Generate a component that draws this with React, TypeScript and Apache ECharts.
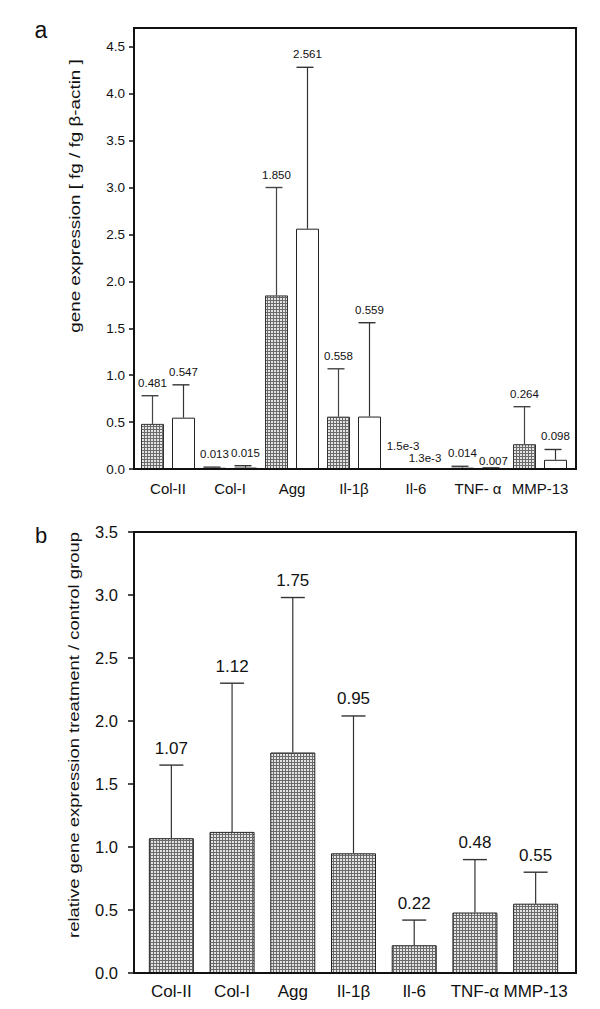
import React, { useEffect, useRef } from 'react';
import * as echarts from 'echarts';

// ---------- data ----------
const categoriesA = ['Col-II', 'Col-I', 'Agg', 'Il-1β', 'Il-6', 'TNF- α', 'MMP-13'];
const groupA1 = [0.481, 0.013, 1.85, 0.558, 0.0015, 0.014, 0.264];
const groupA2 = [0.547, 0.015, 2.561, 0.559, 0.0013, 0.007, 0.098];
const sdA1 = [0.3, 0.007, 1.15, 0.51, 0, 0.015, 0.4];
const sdA2 = [0.35, 0.02, 1.72, 1.0, 0, 0.005, 0.11];
const ticksA = [0, 0.5, 1, 1.5, 2, 2.5, 3, 3.5, 4, 4.5];

const categoriesB = ['Col-II', 'Col-I', 'Agg', 'Il-1β', 'Il-6', 'TNF-α', 'MMP-13'];
const ratioB = [1.07, 1.12, 1.75, 0.95, 0.22, 0.48, 0.55];
const sdB = [0.58, 1.18, 1.23, 1.09, 0.2, 0.42, 0.25];
const ticksB = [0, 0.5, 1, 1.5, 2, 2.5, 3, 3.5];

// ---------- layout / style ----------
const FONT = '"Liberation Sans", Arial, Helvetica, sans-serif';
const BAR_W_A = 23;
const GAP_A = 8;
const BAR_W_B = 45;
const labelNudgeA1 = [[0, 0], [0, 0], [0, 0], [0, 0], [2.5, -10], [0, 0], [0, 0]];
const labelNudgeA2 = [[0, 0], [0, 0], [0, 0], [0, 0], [-6.5, 2], [0, 6], [0, 0]];

function makePattern() {
  const c = document.createElement('canvas');
  c.width = 3;
  c.height = 3;
  const ctx = c.getContext('2d')!;
  ctx.fillStyle = '#e4e4e4';
  ctx.fillRect(0, 0, 3, 3);
  ctx.fillStyle = '#6a6a6a';
  ctx.fillRect(0, 0, 3, 1);
  ctx.fillRect(0, 0, 1, 3);
  return c;
}

function fmtA(v: number) {
  return v < 0.005 ? v.toExponential(1) : v.toFixed(3);
}
function fmtB(v: number) {
  return v.toFixed(2);
}

function errSeries(
  values: number[],
  sds: number[],
  opts: {
    axis: number;
    offset: number;
    capL: number;
    capR: number;
    gap: number;
    fontSize: number;
    fmt: (v: number) => string;
    nudge?: number[][];
    stroke: string;
  }
) {
  return {
    type: 'custom',
    xAxisIndex: opts.axis,
    yAxisIndex: opts.axis,
    clip: false,
    z: 5,
    encode: { x: 0, y: 1 },
    data: values.map((v, i) => [i, v, v + sds[i]]),
    renderItem: (params: any, api: any) => {
      const i = api.value(0);
      const v = api.value(1);
      const top = api.value(2);
      const p0 = api.coord([i, v]);
      const p1 = api.coord([i, top]);
      const x = p0[0] + opts.offset;
      const children: any[] = [];
      if (top > v) {
        children.push({
          type: 'line',
          shape: { x1: x, y1: p0[1], x2: x, y2: p1[1] },
          style: { stroke: opts.stroke, lineWidth: 1.2 },
        });
        children.push({
          type: 'line',
          shape: { x1: x - opts.capL, y1: p1[1], x2: x + opts.capR, y2: p1[1] },
          style: { stroke: opts.stroke, lineWidth: 1.4 },
        });
      }
      const nd = opts.nudge ? opts.nudge[i] : [0, 0];
      children.push({
        type: 'text',
        x: x + nd[0],
        y: p1[1] - opts.gap + nd[1],
        style: {
          text: opts.fmt(v),
          fontSize: opts.fontSize,
          fontFamily: FONT,
          fill: '#111',
          align: 'center',
          verticalAlign: 'middle',
        },
      });
      return { type: 'group', children };
    },
  };
}

export default function App() {
  const ref = useRef<HTMLDivElement>(null);

  useEffect(() => {
    if (!ref.current) return;
    const chart = echarts.init(ref.current, null, { renderer: 'svg' });
    const pattern = {
      image: makePattern(),
      repeat: 'repeat',
      imageWidth: 3,
      imageHeight: 3,
    };
    const offA = (BAR_W_A + GAP_A) / 2;

    const yAxisCommon = (ticks: number[], fontSize: number, margin: number, tickLen: number) => ({
      type: 'value',
      min: 0,
      interval: 0.5,
      axisLine: { show: true, lineStyle: { color: '#111', width: 2 } },
      axisTick: {
        show: true,
        length: tickLen,
        customValues: ticks,
        lineStyle: { color: '#111', width: 1.5 },
      },
      axisLabel: {
        customValues: ticks,
        formatter: (v: number) => v.toFixed(1),
        fontSize,
        fontFamily: FONT,
        color: '#111',
        margin,
      },
      splitLine: { show: false },
    });

    chart.setOption({
      animation: false,
      backgroundColor: '#fff',
      grid: [
        { left: 137, right: 29, top: 28, height: 441 },
        { left: 141, right: 34, top: 532, height: 441 },
      ],
      xAxis: [
        {
          gridIndex: 0,
          type: 'category',
          data: categoriesA,
          axisLine: { show: false },
          axisTick: { show: false },
          axisLabel: { interval: 0, fontSize: 15, fontFamily: FONT, color: '#111', margin: 12 },
        },
        {
          gridIndex: 1,
          type: 'category',
          data: categoriesB,
          axisLine: { show: false },
          axisTick: { show: false },
          axisLabel: { interval: 0, fontSize: 17, fontFamily: FONT, color: '#111', margin: 10 },
        },
      ],
      yAxis: [
        { gridIndex: 0, max: 4.7, offset: 3, ...yAxisCommon(ticksA, 13.5, 9, 5) },
        { gridIndex: 1, max: 3.5, offset: 7, ...yAxisCommon(ticksB, 16.5, 16, 6) },
      ],
      graphic: [
        {
          type: 'rect',
          shape: { x: 134, y: 28, width: 442, height: 441 },
          style: { fill: 'none', stroke: '#111', lineWidth: 2 },
          z: 100,
        },
        {
          type: 'rect',
          shape: { x: 134, y: 532, width: 442, height: 441 },
          style: { fill: 'none', stroke: '#111', lineWidth: 2 },
          z: 100,
        },
        {
          type: 'text',
          x: 41,
          y: 30,
          style: { text: 'a', fontSize: 23, fontFamily: FONT, fill: '#111', align: 'center', verticalAlign: 'middle' },
        },
        {
          type: 'text',
          x: 41,
          y: 535,
          style: { text: 'b', fontSize: 22, fontFamily: FONT, fill: '#111', align: 'center', verticalAlign: 'middle' },
        },
        {
          type: 'text',
          x: 75,
          y: 196,
          rotation: Math.PI / 2,
          scaleX: 1.3,
          style: {
            text: 'gene expression [ fg / fg β-actin ]',
            fontSize: 14.5,
            fontFamily: FONT,
            fill: '#111',
            align: 'center',
            verticalAlign: 'middle',
          },
        },
        {
          type: 'text',
          x: 74,
          y: 735,
          rotation: Math.PI / 2,
          scaleX: 1.3,
          style: {
            text: 'relative gene expression treatment / control group',
            fontSize: 14.2,
            fontFamily: FONT,
            fill: '#111',
            align: 'center',
            verticalAlign: 'middle',
          },
        },
      ],
      series: [
        {
          type: 'bar',
          xAxisIndex: 0,
          yAxisIndex: 0,
          data: groupA1,
          barWidth: BAR_W_A,
          barGap: (GAP_A / BAR_W_A) * 100 + '%',
          itemStyle: { color: pattern, borderColor: '#333', borderWidth: 1 },
        },
        {
          type: 'bar',
          xAxisIndex: 0,
          yAxisIndex: 0,
          data: groupA2,
          barWidth: BAR_W_A,
          barGap: (GAP_A / BAR_W_A) * 100 + '%',
          itemStyle: { color: '#fff', borderColor: '#222', borderWidth: 1 },
        },
        errSeries(groupA1, sdA1, {
          axis: 0, offset: -offA, capL: 11, capR: 6, gap: 13, fontSize: 11.5, fmt: fmtA, nudge: labelNudgeA1, stroke: '#444',
        }),
        errSeries(groupA2, sdA2, {
          axis: 0, offset: offA, capL: 11, capR: 6, gap: 13, fontSize: 11.5, fmt: fmtA, nudge: labelNudgeA2, stroke: '#333',
        }),
        {
          type: 'bar',
          xAxisIndex: 1,
          yAxisIndex: 1,
          data: ratioB,
          barWidth: BAR_W_B,
          itemStyle: { color: pattern, borderColor: '#222', borderWidth: 1 },
        },
        errSeries(ratioB, sdB, {
          axis: 1, offset: 0, capL: 12, capR: 12, gap: 17, fontSize: 17, fmt: fmtB, stroke: '#333',
        }),
      ],
    });
    return () => chart.dispose();
  }, []);

  return (
    <div
      ref={ref}
      style={{ position: 'fixed', left: 0, top: 0, width: 600, height: 1009, background: '#fff' }}
    />
  );
}
